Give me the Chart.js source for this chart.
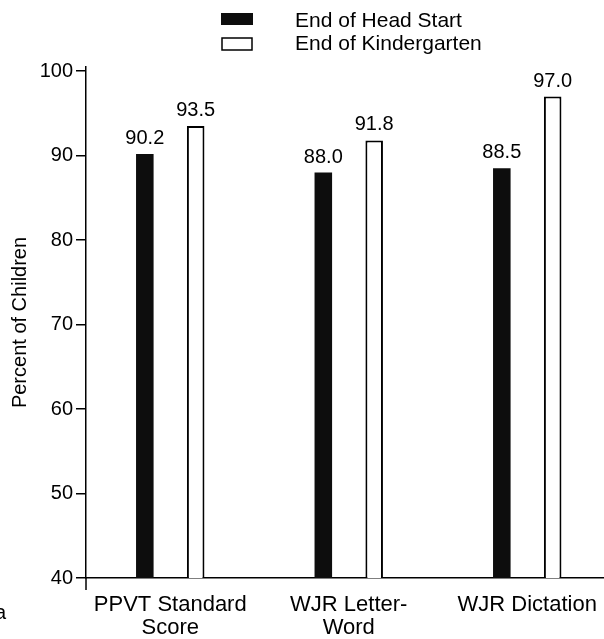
<!DOCTYPE html>
<html>
<head>
<meta charset="utf-8">
<script src="https://cdn.jsdelivr.net/npm/chart.js@4"></script>
<style>
  html, body { margin: 0; padding: 0; background: #fff; }
  #wrap { width: 604px; height: 639px; }
</style>
</head>
<body>
<div id="wrap"><canvas id="chart" width="604" height="639"></canvas></div>
<script>
// ---------- data ----------
const categories = [['PPVT Standard', 'Score'], ['WJR Letter-', 'Word'], ['WJR Dictation']];
const seriesNames = ['End of Head Start', 'End of Kindergarten'];
const headStart = [90.2, 88.0, 88.5];
const kindergarten = [93.5, 91.8, 97.0];
const yMin = 40, yMax = 100, yStep = 10;

const FONT = "'Liberation Sans', Arial, sans-serif";

// ---------- value labels above bars ----------
const valueLabels = {
  id: 'valueLabels',
  afterDatasetsDraw(chart) {
    const ctx = chart.ctx;
    ctx.save();
    ctx.font = '20px ' + FONT;
    ctx.fillStyle = '#000';
    ctx.textAlign = 'center';
    ctx.textBaseline = 'alphabetic';
    chart.data.datasets.forEach((ds, i) => {
      chart.getDatasetMeta(i).data.forEach((bar, j) => {
        ctx.fillText(ds.data[j].y.toFixed(1), bar.x, bar.y - 10);
      });
    });
    ctx.restore();
  }
};

// ---------- legend, axis stub and stray "a" ----------
const extras = {
  id: 'extras',
  afterDraw(chart) {
    const ctx = chart.ctx;
    const area = chart.chartArea;
    ctx.save();
    // legend
    const ds = chart.data.datasets;
    ctx.fillStyle = ds[0].backgroundColor;
    ctx.fillRect(221, 13, 32, 12);
    ctx.fillStyle = '#fff';
    ctx.strokeStyle = '#000';
    ctx.lineWidth = 1.5;
    ctx.fillRect(222, 38, 30, 12);
    ctx.strokeRect(222, 38, 30, 12);
    ctx.fillStyle = '#000';
    ctx.font = '21px ' + FONT;
    ctx.textAlign = 'left';
    ctx.textBaseline = 'middle';
    ctx.fillText(ds[0].label, 295, 21);
    ctx.fillText(ds[1].label, 295, 44);
    // y axis runs a little below the x axis
    ctx.beginPath();
    ctx.moveTo(area.left, area.bottom);
    ctx.lineTo(area.left, area.bottom + 12);
    ctx.stroke();
    // panel letter at the page edge
    ctx.font = '20px ' + FONT;
    ctx.textBaseline = 'alphabetic';
    ctx.fillText('a', -5, 619);
    ctx.restore();
  }
};

const ctx = document.getElementById('chart').getContext('2d');
new Chart(ctx, {
  type: 'bar',
  data: {
    datasets: [
      {
        label: seriesNames[0],
        data: headStart.map((v, i) => ({ x: i, y: v })),
        backgroundColor: '#0d0d0d',
        borderWidth: 0
      },
      {
        label: seriesNames[1],
        data: kindergarten.map((v, i) => ({ x: i, y: v })),
        backgroundColor: '#fff',
        borderColor: '#000',
        borderWidth: 2,
        borderSkipped: false
      }
    ]
  },
  options: {
    responsive: false,
    animation: false,
    layout: { padding: { top: 67, left: 0, right: 0, bottom: 0 } },
    categoryPercentage: 0.57,
    barPercentage: 0.345,
    plugins: {
      legend: { display: false },
      tooltip: { enabled: false }
    },
    scales: {
      x: {
        type: 'linear',
        offset: false,
        min: -0.472,
        max: 2.43,
        afterFit: s => { s.height = 61; s.paddingLeft = 0; s.paddingRight = 0; },
        grid: { display: false, drawTicks: false, offset: false },
        border: { display: true, color: '#000', width: 1.5 },
        ticks: {
          stepSize: 1,
          includeBounds: false,
          autoSkip: false,
          maxRotation: 0,
          padding: 15,
          color: '#000',
          font: { family: FONT, size: 22, lineHeight: 1.05 },
          callback: v => categories[Math.round(v)] || ''
        }
      },
      y: {
        min: yMin,
        max: yMax + 0.5,
        afterFit: s => { s.width = 86; },
        grid: { drawOnChartArea: false, drawTicks: true, tickLength: 10, color: '#000', lineWidth: 1.5 },
        border: { display: true, color: '#000', width: 1.5 },
        ticks: {
          stepSize: yStep,
          includeBounds: false,
          padding: 3,
          color: '#000',
          font: { family: FONT, size: 20 }
        },
        title: {
          display: true,
          text: 'Percent of Children',
          color: '#000',
          padding: { top: 8, bottom: 0 },
          font: { family: FONT, size: 20 }
        }
      }
    }
  },
  plugins: [valueLabels, extras]
});
</script>
</body>
</html>
